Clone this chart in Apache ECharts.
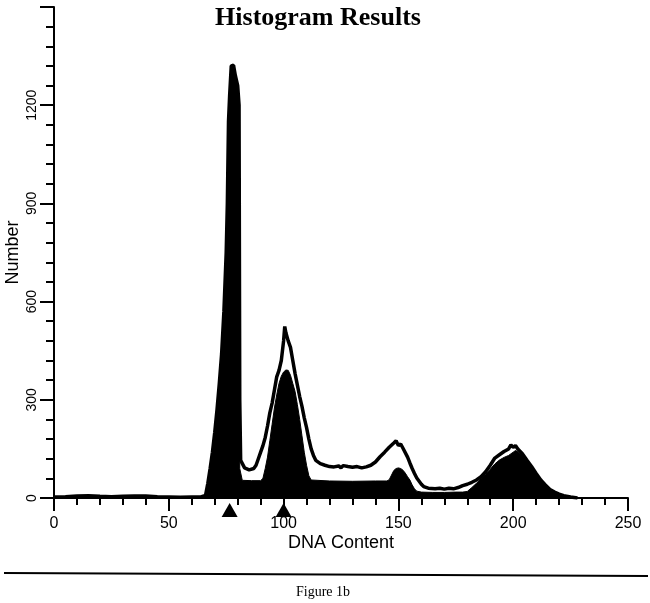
<!DOCTYPE html>
<html>
<head>
<meta charset="utf-8">
<script src="https://cdn.jsdelivr.net/npm/echarts@6/dist/echarts.min.js"></script>
<style>html,body{margin:0;padding:0;background:#fff}#c{width:650px;height:603px}</style>
</head>
<body>
<div id="c"></div>
<script>
// Fitted model (black filled area)
var fitX = [65,66,67,68,69,70,71,72,73,74,75,75.5,76,76.5,77.2,78.2,79,80,80.6,80.9,82,86,90,91,92,93,94,95,96,97,98,99,100,101,102,103,104,105,106,107,108,109,110,111,112,120,130,140,145,146,147,148,149,150,151,152,153,154,155,156,157,158,160,165,170,175,178,180,182,184,186,188,190,192,194,196,198,200,201,202,204,206,208,210,212,214,216,218,220,222,225,228];
var fitY = [0,5,45,90,140,200,270,350,440,570,750,900,1150,1230,1320,1322,1290,1260,1200,90,54,53,53,60,90,125,175,225,275,315,350,372,385,391,390,375,350,325,285,240,190,140,100,68,55,52,51,52,52,56,70,84,90,92,90,85,76,65,55,40,28,21,18,17,17,18,18,20,32,45,58,72,88,104,116,124,130,140,145,142,130,110,92,72,52,37,24,16,10,6,2,0];
// Measured histogram (black line)
var dataX = [0,5,10,15,20,25,30,35,40,45,50,55,60,64,66,67,68,69,70,71,72,73,74,75,75.5,76,76.5,77.2,78.2,79,80,80.6,80.9,81.3,83,85,87,88,89,90,91,92,93,94,95,96,97,98,99,100,100.5,101,102,103,104,105,106,107,108,109,110,111,112,113,114,116,118,120,122,124,125,126,128,130,132,134,136,138,140,142,144,146,148,149,150,151,152,154,155,156,157,158,160,161,163,166,168,170,172,174,176,178,180,182,184,186,188,190,192,194,196,198,199,200,201,202,204,206,208,210,212,214,216,218,220,222,225,228];
var dataY = [3,4,6,7,5,4,5,6,6,4,3,2,3,3,8,45,90,140,200,270,350,440,570,750,900,1150,1230,1320,1322,1290,1260,1200,300,115,92,86,90,100,120,140,160,185,220,260,290,330,370,390,420,480,524,505,480,460,420,380,345,310,280,245,215,180,150,130,115,105,100,96,95,98,92,99,96,94,96,92,95,100,110,126,140,155,168,175,160,165,152,125,107,90,75,61,42,35,30,28,30,27,30,28,32,38,42,48,55,65,80,100,122,132,142,150,162,155,160,150,135,115,96,75,55,40,26,18,12,7,3,0];
// Gate markers on the DNA axis
var markerX = [76.5, 100];
// Axis ticks
var xTicks = { min: 0, max: 250, interval: 50 };
var yTicks = { min: 0, max: 1500, interval: 300 };

function pairs(xs, ys) { return xs.map(function (x, i) { return [x, ys[i]]; }); }

var chart = echarts.init(document.getElementById('c'), null, { renderer: 'canvas' });
var axisFont = 'Liberation Sans, Arial, sans-serif';
chart.setOption({
  animation: false,
  backgroundColor: '#fff',
  grid: { left: 54, right: 22, top: 7, bottom: 105, containLabel: false, outerBoundsMode: 'none' },
  xAxis: {
    type: 'value', min: xTicks.min, max: xTicks.max, interval: xTicks.interval,
    name: 'DNA Content', nameLocation: 'middle', nameGap: 36, nameMoveOverlap: false,
    nameTextStyle: { color: '#000', fontSize: 18, fontFamily: axisFont },
    axisLine: { show: true, lineStyle: { color: '#000', width: 2 } },
    axisTick: { show: true, length: 13, lineStyle: { color: '#000', width: 2 } },
    minorTick: { show: true, splitNumber: 5, length: 7, lineStyle: { color: '#000', width: 2 } },
    axisLabel: { color: '#000', fontSize: 16, fontFamily: axisFont, margin: 18, formatter: function (v) { return String(v); } },
    splitLine: { show: false }
  },
  yAxis: {
    type: 'value', min: yTicks.min, max: yTicks.max, interval: yTicks.interval,
    name: 'Number', nameLocation: 'middle', nameGap: 32, nameRotate: 90, nameMoveOverlap: false,
    nameTextStyle: { color: '#000', fontSize: 18, fontFamily: axisFont },
    axisLine: { show: true, lineStyle: { color: '#000', width: 2 } },
    axisTick: { show: true, length: 14, lineStyle: { color: '#000', width: 2 } },
    minorTick: { show: true, splitNumber: 5, length: 8, lineStyle: { color: '#000', width: 2 } },
    axisLabel: { color: '#000', fontSize: 14, fontFamily: axisFont, rotate: 90, margin: 15, showMaxLabel: false, formatter: function (v) { return String(v); } },
    splitLine: { show: false }
  },
  series: [
    {
      type: 'line', data: pairs(fitX, fitY), symbol: 'none', smooth: false,
      lineStyle: { color: '#000', width: 1 },
      areaStyle: { color: '#000', opacity: 1 }, z: 2
    },
    {
      type: 'line', data: pairs(dataX, dataY), symbol: 'none', smooth: false,
      lineStyle: { color: '#000', width: 3.5 }, z: 3
    },
    {
      type: 'scatter', data: markerX.map(function (x) { return [x, 0]; }),
      symbol: 'triangle', symbolSize: [16, 14], symbolOffset: [0, 12],
      itemStyle: { color: '#000', opacity: 1 }, clip: false, z: 5
    }
  ],
  graphic: [
    { type: 'text', x: 318, y: 18, style: { text: 'Histogram Results', font: 'bold 26px "Liberation Serif", "Times New Roman", serif', fill: '#000', align: 'center', verticalAlign: 'middle' } },
    { type: 'line', shape: { x1: 4, y1: 573, x2: 648, y2: 576 }, style: { stroke: '#000', lineWidth: 2 } },
    { type: 'text', x: 323, y: 592, style: { text: 'Figure 1b', font: '14px "Liberation Serif", "Times New Roman", serif', fill: '#000', align: 'center', verticalAlign: 'middle' } }
  ]
});
</script>
</body>
</html>
